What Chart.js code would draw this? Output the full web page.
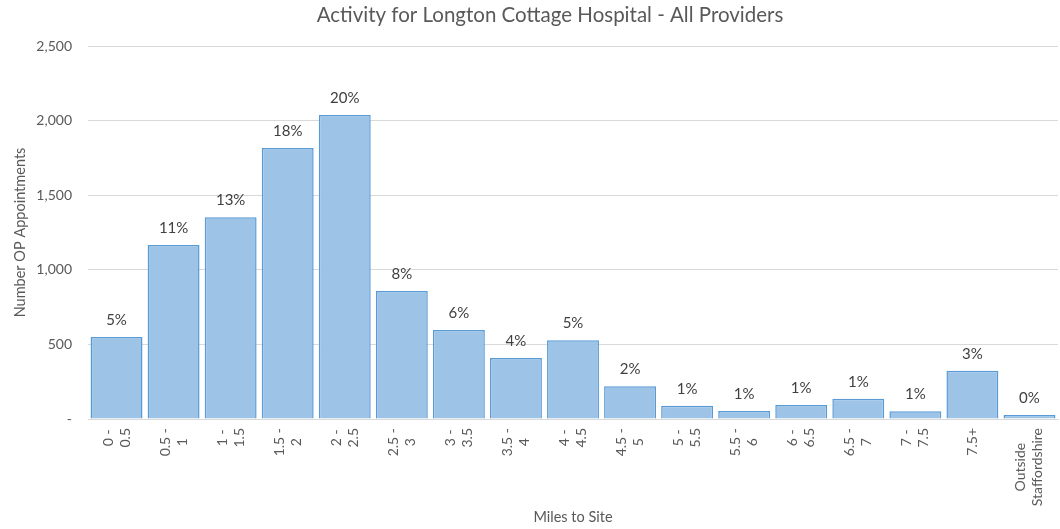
<!DOCTYPE html>
<html>
<head>
<meta charset="utf-8">
<script src="https://cdn.jsdelivr.net/npm/chart.js@4/dist/chart.umd.min.js"></script>
<style>
  html, body { margin: 0; padding: 0; background: #fff; }
  #wrap { width: 1060px; height: 529px; }
</style>
</head>
<body>
<div id="wrap"><canvas id="chart" width="1060" height="529"></canvas></div>
<script>
const categories = ['0 -|0.5', '0.5 -|1', '1 -|1.5', '1.5 -|2', '2 -|2.5', '2.5 -|3', '3 -|3.5', '3.5 -|4',
  '4 -|4.5', '4.5 -|5', '5 -|5.5', '5.5 -|6', '6 -|6.5', '6.5 -|7', '7 -|7.5', '7.5+', 'Outside|Staffordshire'];
const appointments = [550, 1166, 1353, 1816, 2037, 858, 596, 409, 527, 219, 89, 54, 94, 136, 52, 324, 27];
const pctLabels = ['5%', '11%', '13%', '18%', '20%', '8%', '6%', '4%', '5%', '2%', '1%', '1%', '1%', '1%', '1%', '3%', '0%'];
const yTicks = [0, 500, 1000, 1500, 2000, 2500];

const FONT = 'Lato, "Open Sans", sans-serif';
const GREY = '#595959';

// percentages above bars, rotated x labels, title and y title
const extras = {
  id: 'extras',
  afterDatasetsDraw(chart) {
    const ctx = chart.ctx;
    const meta = chart.getDatasetMeta(0);
    ctx.save();
    ctx.fillStyle = '#404040';
    ctx.font = '15px ' + FONT;
    ctx.textAlign = 'center';
    ctx.textBaseline = 'alphabetic';
    meta.data.forEach((bar, i) => {
      ctx.fillText(pctLabels[i], bar.x, bar.y - 12);
    });
    ctx.restore();
  },
  afterDraw(chart) {
    const ctx = chart.ctx;
    const xs = chart.scales.x;
    ctx.save();
    ctx.fillStyle = GREY;
    ctx.font = '14px ' + FONT;
    ctx.textAlign = 'center';
    ctx.textBaseline = 'middle';
    categories.forEach((c, i) => {
      const lines = c.split('|');
      const w = Math.max(...lines.map(l => ctx.measureText(l).width));
      const x = xs.getPixelForTick(i);
      const top = chart.chartArea.bottom + 9;
      ctx.save();
      ctx.translate(x, top + w / 2);
      ctx.rotate(-Math.PI / 2);
      const lh = 17;
      lines.forEach((l, k) => {
        ctx.fillText(l, 0, (k - (lines.length - 1) / 2) * lh);
      });
      ctx.restore();
    });

    // chart title
    ctx.font = '20.5px ' + FONT;
    ctx.fillText('Activity for Longton Cottage Hospital - All Providers', 550, 15);

    // y axis title
    ctx.font = '14.5px ' + FONT;
    ctx.translate(20, (chart.chartArea.top + chart.chartArea.bottom) / 2);
    ctx.rotate(-Math.PI / 2);
    ctx.fillText('Number OP Appointments', 0, 0);
    ctx.restore();
  }
};

new Chart(document.getElementById('chart'), {
  type: 'bar',
  data: {
    labels: categories,
    datasets: [{
      data: appointments,
      backgroundColor: '#9dc3e6',
      borderColor: '#5b9bd5',
      borderWidth: 1.5,
      barPercentage: 0.91,
      categoryPercentage: 1
    }]
  },
  options: {
    responsive: false,
    animation: false,
    layout: { padding: { top: 46, right: 2, left: 0, bottom: 0 } },
    plugins: {
      legend: { display: false },
      tooltip: { enabled: false },
      title: { display: false }
    },
    scales: {
      x: {
        grid: { display: false },
        border: { display: true, color: '#d9d9d9' },
        ticks: { display: false },
        title: {
          display: true,
          text: 'Miles to Site',
          color: GREY,
          font: { family: FONT, size: 14.5 },
          padding: 3
        },
        afterFit(scale) { scale.height = 110; }
      },
      y: {
        min: 0,
        max: 2500,
        afterBuildTicks(scale) { scale.ticks = yTicks.map(v => ({ value: v })); },
        grid: { color: '#d9d9d9', drawTicks: false },
        border: { display: false },
        ticks: {
          color: GREY,
          padding: 16,
          font: { family: FONT, size: 14 },
          callback: v => v === 0 ? '-' : v.toLocaleString('en-US')
        },
        afterFit(scale) { scale.width = 88; }
      }
    }
  },
  plugins: [extras]
});
</script>
</body>
</html>
